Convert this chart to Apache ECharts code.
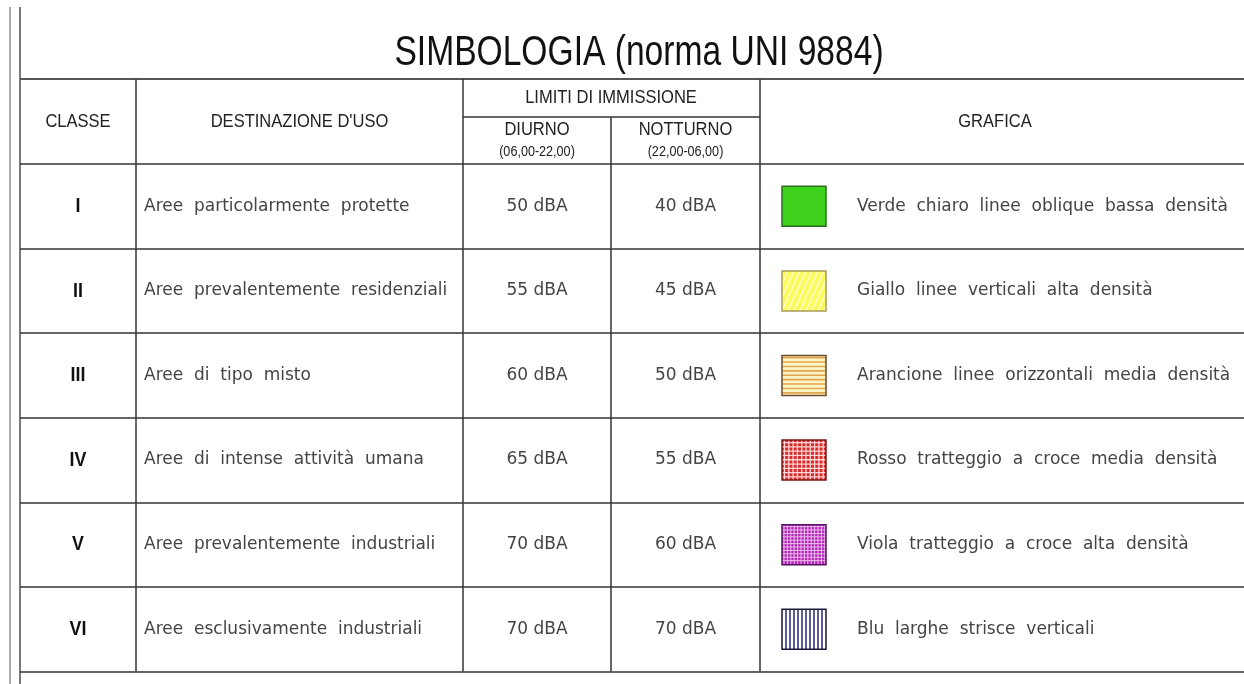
<!DOCTYPE html>
<html><head><meta charset="utf-8">
<script src="https://cdn.jsdelivr.net/npm/echarts@6/dist/echarts.min.js"></script>
<style>html,body{margin:0;padding:0;background:#fff}#c{width:1244px;height:684px}</style>
</head><body><div id="c"></div>
<script>
// ---- data ----
const title = 'SIMBOLOGIA (norma UNI 9884)';
const headClasse = 'CLASSE';
const headDest = "DESTINAZIONE D'USO";
const headLimiti = 'LIMITI DI IMMISSIONE';
const headDiurno = ['DIURNO', '(06,00-22,00)'];
const headNotturno = ['NOTTURNO', '(22,00-06,00)'];
const headGrafica = 'GRAFICA';
const classes = ['I', 'II', 'III', 'IV', 'V', 'VI'];
const destinazioni = [
  'Aree particolarmente protette',
  'Aree prevalentemente residenziali',
  'Aree di tipo misto',
  'Aree di intense attività umana',
  'Aree prevalentemente industriali',
  'Aree esclusivamente industriali'
];
const diurno = [50, 55, 60, 65, 70, 70];
const notturno = [40, 45, 50, 55, 60, 70];
const unit = 'dBA';
const grafica = [
  'Verde chiaro linee oblique bassa densità',
  'Giallo linee verticali alta densità',
  'Arancione linee orizzontali media densità',
  'Rosso tratteggio a croce media densità',
  'Viola tratteggio a croce alta densità',
  'Blu larghe strisce verticali'
];
const patterns = ['solid', 'oblique', 'horizontal', 'cross', 'crossDense', 'vertical'];

// ---- layout / style ----
const COL = { left: 20, classe: 136, dest: 463, mid: 611, lim: 760, right: 1244 };
const HEAD_FONT = '"Liberation Sans Narrow", "Liberation Sans", Arial, sans-serif';
const BODY_FONT = '"DejaVu Sans", sans-serif';
const LINE = '#333';
const NARROW = 0.87;
const spaced = s => s.split(' ').join('  ');

function swatch(kind, x, y, w, h) {
  const out = [];
  const line = (x1, y1, x2, y2, stroke, lw) => out.push({
    type: 'line', shape: { x1, y1, x2, y2 }, style: { stroke, lineWidth: lw }
  });
  const rect = (fill) => out.push({ type: 'rect', shape: { x, y, width: w, height: h }, style: { fill } });
  const border = (stroke) => out.push({ type: 'rect', shape: { x, y, width: w, height: h }, style: { fill: null, stroke, lineWidth: 1.5 } });
  if (kind === 'solid') {
    rect('#3fd21c'); border('#2e6e22');
  } else if (kind === 'oblique') {
    rect('#fbfb5c');
    const dx = h * 0.45;
    for (let bx = x - dx; bx < x + w; bx += 6) {
      let s0 = Math.max(0, (x - bx) / dx), s1 = Math.min(1, (x + w - bx) / dx);
      if (s1 <= s0) continue;
      line(bx + s0 * dx, y + h - s0 * h, bx + s1 * dx, y + h - s1 * h, '#fffcc4', 1.6);
    }
    border('#a99b58');
  } else if (kind === 'horizontal') {
    rect('#fff4c4');
    for (let yy = y + 2.2; yy < y + h; yy += 4.4) line(x, yy, x + w, yy, '#e2a650', 1.6);
    border('#6b4b2b');
  } else if (kind === 'cross') {
    rect('#dc2a2a');
    for (let xx = x + 2.5; xx < x + w - 1; xx += 4.3) line(xx, y, xx, y + h, '#ffd6d6', 1.3);
    for (let yy = y + 2.5; yy < y + h - 1; yy += 4.3) line(x, yy, x + w, yy, '#ffd6d6', 1.3);
    border('#7a1818');
  } else if (kind === 'crossDense') {
    rect('#b126b6');
    for (let xx = x + 2; xx < x + w - 1; xx += 3.4) line(xx, y, xx, y + h, '#efbdf0', 1);
    for (let yy = y + 2; yy < y + h - 1; yy += 3.4) line(x, yy, x + w, yy, '#efbdf0', 1);
    border('#561060');
  } else if (kind === 'vertical') {
    rect('#ffffff');
    for (let xx = x + 4; xx < x + w - 1; xx += 4) line(xx, y, xx, y + h, '#26267a', 1.5);
    border('#1a1a3a');
  }
  return out;
}

const rowData = classes.map((c, i) => [COL.left, i]);

const hText = (text, x, y, size, sx = NARROW, opts = {}) => ({
  type: 'text', x, y, scaleX: sx, silent: true,
  style: Object.assign({ text, font: `${size}px ${HEAD_FONT}`, fill: '#222', align: 'center', verticalAlign: 'middle' }, opts)
});
const hLine = (x1, y1, x2, y2, stroke = LINE, lw = 1.5) => ({
  type: 'line', silent: true, shape: { x1, y1, x2, y2 }, style: { stroke, lineWidth: lw }
});

const chart = echarts.init(document.getElementById('c'), null, { renderer: 'canvas' });
chart.setOption({
  animation: false,
  backgroundColor: '#fff',
  grid: { left: COL.left, right: 0, top: 164, bottom: 12.5, containLabel: false },
  xAxis: { type: 'value', min: COL.left, max: COL.right, show: false },
  yAxis: {
    type: 'category', data: classes, inverse: true, boundaryGap: true,
    axisLine: { show: false }, axisTick: { show: false }, axisLabel: { show: false },
    splitLine: { show: true, lineStyle: { color: LINE, width: 1.5 } }
  },
  graphic: [
    hLine(10, 7, 10, 684, '#aaaaaa', 2),
    hLine(20, 7, 20, 684, '#7a7a7a', 2),
    hText(title, 639, 53, 42, 0.8, { fill: '#111' }),
    hLine(COL.left, 79, COL.right, 79, '#555', 2),
    hLine(COL.classe, 79, COL.classe, 164),
    hLine(COL.dest, 79, COL.dest, 164),
    hLine(COL.lim, 79, COL.lim, 164),
    hLine(COL.dest, 117, COL.lim, 117),
    hLine(COL.mid, 117, COL.mid, 164),
    hText(headClasse, 78, 122, 19),
    hText(headDest, 299.5, 122, 19),
    hText(headLimiti, 611, 98, 19),
    hText(headDiurno[0], 537, 129.5, 19),
    hText(headDiurno[1], 537, 152, 14, 0.9),
    hText(headNotturno[0], 685.5, 129.5, 19),
    hText(headNotturno[1], 685.5, 152, 14, 0.9),
    hText(headGrafica, 995, 122, 19)
  ],
  series: [{
    type: 'custom',
    silent: true,
    data: rowData,
    encode: { x: 0, y: 1 },
    renderItem(params, api) {
      const i = api.value(1);
      const c = api.coord([COL.left, i]);
      const bh = api.size([0, 1])[1];
      const yc = c[1], yt = yc - bh / 2, yb = yc + bh / 2;
      const X = v => api.coord([v, i])[0];
      const children = [];
      [COL.classe, COL.dest, COL.mid, COL.lim].forEach(v => children.push({
        type: 'line', shape: { x1: X(v), y1: yt, x2: X(v), y2: yb }, style: { stroke: LINE, lineWidth: 1.5 }
      }));
      children.push({ type: 'text', x: X(78), y: yc, scaleX: 0.85, style: { text: classes[i], font: `bold 21px ${HEAD_FONT}`, fill: '#111', align: 'center', verticalAlign: 'middle' } });
      children.push({ type: 'text', x: X(144), y: yc, style: { text: spaced(destinazioni[i]), font: `17px ${BODY_FONT}`, fill: '#444', align: 'left', verticalAlign: 'middle' } });
      children.push({ type: 'text', x: X(537), y: yc, style: { text: diurno[i] + ' ' + unit, font: `17px ${BODY_FONT}`, fill: '#444', align: 'center', verticalAlign: 'middle' } });
      children.push({ type: 'text', x: X(685.5), y: yc, style: { text: notturno[i] + ' ' + unit, font: `17px ${BODY_FONT}`, fill: '#444', align: 'center', verticalAlign: 'middle' } });
      const sw = 44, sh = 40;
      swatch(patterns[i], X(782), yc - sh / 2, sw, sh).forEach(e => children.push(e));
      children.push({ type: 'text', x: X(857), y: yc, style: { text: spaced(grafica[i]), font: `17px ${BODY_FONT}`, fill: '#444', align: 'left', verticalAlign: 'middle' } });
      return { type: 'group', children };
    }
  }]
});
</script>
</body></html>
